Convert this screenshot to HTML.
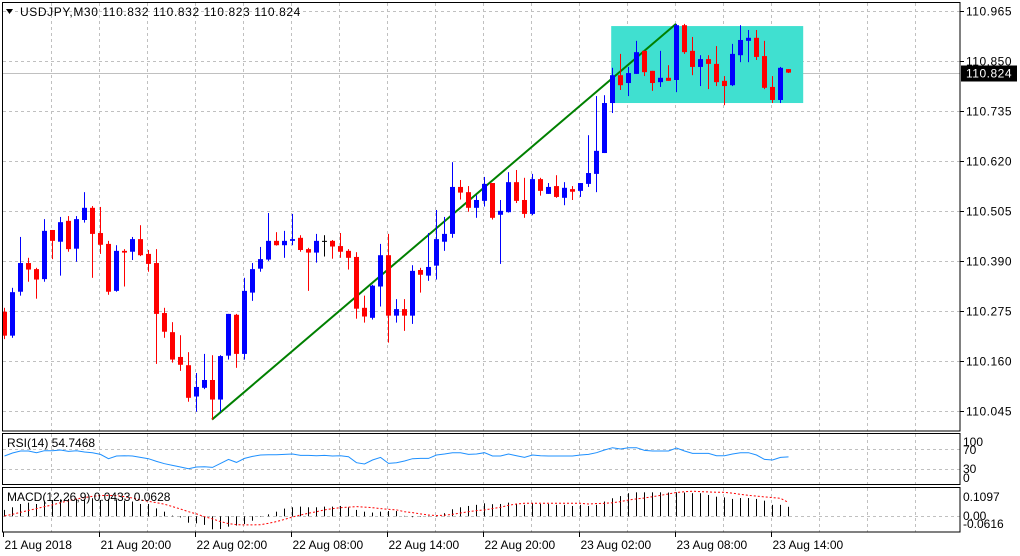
<!DOCTYPE html>
<html><head><meta charset="utf-8"><style>
html,body{margin:0;padding:0;background:#fff;}
svg{display:block;font-family:"Liberation Sans",sans-serif;font-size:12px;}
</style></head><body>
<svg id="chart" width="1020" height="556" viewBox="0 0 1020 556" xmlns="http://www.w3.org/2000/svg">
<rect x="0" y="0" width="1020" height="556" fill="#fff"/>
<g id="grid"></g>
<g id="overlay"></g>
<g id="candles"></g>
<g id="ind"></g>
<g id="frame">
<rect x="2.5" y="2.5" width="957.5" height="428.5" fill="none" stroke="#000"/>
<rect x="2.5" y="433.5" width="957.5" height="51" fill="none" stroke="#000"/>
<rect x="2.5" y="487.5" width="957.5" height="44.5" fill="none" stroke="#000"/>
</g>
<g id="axes"></g>
<polygon points="6,9 13,9 9.5,14" fill="#000"/>
<text x="20" y="16" fill="#000" letter-spacing="0.6">USDJPY,M30  110.832 110.832 110.823 110.824</text>
<text x="7" y="447" fill="#000">RSI(14) 54.7468</text>
<text x="7" y="501" fill="#000">MACD(12,26,9) 0.0433 0.0628</text>
</svg>
<script>
const opens=[110.274,110.219,110.320,110.386,110.372,110.349,110.462,110.435,110.483,110.419,
110.485,110.513,110.455,110.430,110.322,110.414,110.412,110.441,110.407,110.386,
110.271,110.227,110.170,110.151,110.079,110.099,110.117,110.072,110.173,110.267,
110.177,110.318,110.373,110.394,110.437,110.427,110.437,110.444,110.418,110.410,
110.437,110.437,110.425,110.414,110.400,110.283,110.260,110.332,110.404,110.265,
110.280,110.265,110.370,110.357,110.380,110.435,110.453,110.561,110.549,110.513,
110.529,110.570,110.497,110.503,110.572,110.531,110.499,110.579,110.545,110.563,
110.536,110.556,110.552,110.568,110.591,110.639,110.754,110.818,110.800,110.821,
110.874,110.828,110.802,110.812,110.807,110.933,110.874,110.837,110.855,110.844,
110.805,110.795,110.864,110.897,110.904,110.862,110.791,110.761,110.832];
const highs=[110.283,110.329,110.446,110.398,110.375,110.487,110.462,110.492,110.494,110.494,
110.549,110.517,110.515,110.437,110.427,110.418,110.446,110.473,110.416,110.418,
110.283,110.250,110.220,110.181,110.133,110.177,110.174,110.174,110.269,110.269,
110.352,110.386,110.423,110.501,110.457,110.460,110.499,110.450,110.421,110.453,
110.450,110.439,110.455,110.418,110.411,110.311,110.336,110.430,110.453,110.303,
110.303,110.381,110.375,110.455,110.508,110.492,110.618,110.577,110.563,110.542,
110.584,110.570,110.531,110.595,110.600,110.582,110.591,110.582,110.570,110.588,
110.572,110.563,110.570,110.680,110.770,110.772,110.835,110.867,110.837,110.897,
110.874,110.828,110.874,110.841,110.936,110.936,110.906,110.864,110.864,110.885,
110.816,110.890,110.933,110.922,110.922,110.897,110.816,110.837,110.832];
const lows=[110.211,110.214,110.311,110.343,110.304,110.343,110.395,110.357,110.412,110.389,
110.479,110.352,110.407,110.313,110.320,110.332,110.393,110.402,110.366,110.154,
110.214,110.157,110.138,110.067,110.044,110.096,110.026,110.044,110.164,110.145,
110.164,110.299,110.366,110.391,110.426,110.398,110.427,110.412,110.322,110.387,
110.401,110.396,110.398,110.371,110.258,110.249,110.256,110.286,110.203,110.249,
110.230,110.246,110.318,110.345,110.348,110.414,110.444,110.532,110.504,110.490,
110.516,110.486,110.384,110.502,110.524,110.490,110.496,110.541,110.545,110.536,
110.519,110.531,110.538,110.561,110.549,110.639,110.731,110.784,110.770,110.821,
110.816,110.782,110.791,110.805,110.779,110.867,110.818,110.793,110.786,110.793,
110.749,110.793,110.848,110.848,110.853,110.786,110.754,110.754,110.823];
const closes=[110.219,110.319,110.386,110.371,110.348,110.460,110.437,110.480,110.418,110.487,
110.513,110.453,110.428,110.320,110.414,110.410,110.441,110.404,110.384,110.269,
110.228,110.164,110.152,110.076,110.101,110.117,110.072,110.172,110.269,110.177,
110.322,110.372,110.395,110.437,110.427,110.437,110.441,110.416,110.410,110.437,
110.437,110.424,110.412,110.398,110.281,110.263,110.334,110.404,110.265,110.280,
110.265,110.368,110.359,110.377,110.441,110.453,110.561,110.548,110.513,110.531,
110.568,110.490,110.506,110.572,110.529,110.499,110.579,110.552,110.561,110.538,
110.559,110.550,110.570,110.593,110.644,110.754,110.818,110.795,110.823,110.871,
110.825,110.800,110.812,110.805,110.933,110.871,110.837,110.855,110.844,110.802,
110.793,110.867,110.899,110.904,110.860,110.789,110.761,110.835,110.824];
const rsiValues=[56.6,62.6,66.6,66.6,63.3,67.3,67.3,68.6,65.9,67.3,64.6,63.3,59.9,51.3,56.6,57.3,56.6,53.9,51.3,45.9,
41.3,37.9,34.6,31.2,34.6,35.2,33.9,41.9,49.9,43.9,51.9,55.9,58.6,59.2,59.2,59.9,60.6,57.9,57.9,57.3,
57.9,56.6,57.3,55.3,43.2,40.6,48.6,53.9,41.9,43.2,46.6,51.3,51.9,51.9,58.6,60.6,63.2,63.2,59.9,60.6,
63.2,56.6,56.6,60.6,57.3,53.9,58.6,57.3,56.6,56.6,56.6,56.6,58.6,59.9,63.2,68.6,73.3,70.6,73.3,73.3,
67.9,66.6,66.6,66.6,72.6,66.6,61.9,61.9,61.9,57.3,57.3,60.6,63.2,63.2,58.6,49.9,48.6,53.9,54.7];
const macdHist=[.029,.041,.056,.062,.056,.071,.074,.077,.079,.080,.077,.082,.074,.079,.077,.071,.067,.056,.056,.036,
.021,.003,-.005,-.029,-.032,-.039,-.059,-.058,-.047,-.042,-.035,-.020,0,.009,.021,.035,.041,.044,.041,.041,
.044,.044,.047,.041,.029,.021,.017,.021,.024,.024,
.002,-.004,0,.002,.002,.014,.032,.041,.047,.052,.059,.055,.056,.062,.056,.052,.059,.056,.056,.052,
.052,.047,.052,.047,.052,.067,.082,.092,.105,.109,.109,.109,.109,.108,.109,.108,.105,.105,.097,.089,
.086,.079,.083,.083,.079,.071,.052,.052,.0433];
const macdSignal=[.002,.009,.018,.027,.035,.044,.052,.062,.071,.079,.085,.091,.094,.095,.094,.089,.083,.074,.068,.062,
.055,.044,.033,.021,.011,-.002,-.012,-.024,-.033,-.038,-.039,-.039,-.038,-.032,-.024,-.014,-.003,.006,.014,.021,
.029,.035,.039,.042,.044,.042,.039,.035,.032,.029,
.021,.017,.011,.006,.003,.005,.009,.015,.021,.026,.029,.035,.041,.050,.056,.059,.059,.059,.059,.059,
.059,.059,.059,.056,.058,.059,.062,.067,.074,.079,.083,.089,.095,.102,.108,.112,.114,.112,.111,.109,
.109,.105,.100,.095,.092,.088,.085,.082,.0628];
const priceTicks=[110.965,110.850,110.735,110.620,110.505,110.390,110.275,110.160,110.045];
const timeLabels=["21 Aug 2018","21 Aug 20:00","22 Aug 02:00","22 Aug 08:00","22 Aug 14:00","22 Aug 20:00","23 Aug 02:00","23 Aug 08:00","23 Aug 14:00"];
const currentPrice=[110.824];
const trendStart=[26,110.026];
const trendEnd=[84,110.936];
const rangeBox=[75.9,99.9,110.931,110.754];

const NS="http://www.w3.org/2000/svg";
function mk(tag,attrs,parent){const e=document.createElementNS(NS,tag);for(const k in attrs)e.setAttribute(k,attrs[k]);parent.appendChild(e);return e;}
const xOf=i=>4+8*i;
const yOf=p=>411.3-(p-110.045)*434.8;
const rY=v=>484.3-v*0.5;
const mY=v=>516.3-v*220;
const grid=document.getElementById('grid'),ov=document.getElementById('overlay'),cg=document.getElementById('candles'),ind=document.getElementById('ind'),ax=document.getElementById('axes');

for(let x=51.5;x<960;x+=48){
  [[3,431],[434,484],[488,532]].forEach(r=>{
    const l=mk('line',{x1:x,x2:x,y1:r[0],y2:r[1],stroke:'#c0c0c0','stroke-dasharray':'3,3'},grid);
    
    
  });
}
priceTicks.forEach(p=>{
  const y=Math.round(yOf(p))+0.5;
  const l=mk('line',{x1:3,x2:960,y1:y,y2:y,stroke:'#c0c0c0','stroke-dasharray':'3,3'},grid);
  
  
  const t=mk('line',{x1:960,x2:964,y1:y,y2:y,stroke:'#000'},ax);
  
  
  const tx=mk('text',{x:966,y:y+4,fill:'#000','letter-spacing':'0.5'},ax);
  tx.textContent=p.toFixed(3);
  
  
});
[70,30].forEach(v=>{
  const y=Math.round(rY(v))+0.5;
  const l=mk('line',{x1:3,x2:960,y1:y,y2:y,stroke:'#c0c0c0','stroke-dasharray':'3,3'},grid);
  
  
});
{const y=Math.round(mY(0))+0.5;
 const l=mk('line',{x1:3,x2:960,y1:y,y2:y,stroke:'#c0c0c0','stroke-dasharray':'3,3'},grid);
 
 }

{const y=Math.round(yOf(currentPrice[0]))+0.5;
 const l=mk('line',{x1:3,x2:960,y1:y,y2:y,stroke:'#c0c0c0'},ov);
 
 
 const r=mk('rect',{x:961,y:y-8,width:56,height:16,fill:'#000'},ax);
 
 
 const t=mk('text',{x:966,y:y+4,fill:'#fff','letter-spacing':'0.5'},ax);
 t.textContent=currentPrice[0].toFixed(3);
 
 }

{const x1=xOf(rangeBox[0]),x2=xOf(rangeBox[1]),y1=yOf(rangeBox[2]),y2=yOf(rangeBox[3]);
 const r=mk('rect',{x:x1,y:y1,width:x2-x1,height:y2-y1,fill:'#40e0d0'},ov);
 
 }
{const l=mk('line',{x1:xOf(trendStart[0]),y1:yOf(trendStart[1]),x2:xOf(trendEnd[0]),y2:yOf(trendEnd[1]),stroke:'#008000','stroke-width':2},ov);
 
 }

for(let i=0;i<opens.length;i++){
  const o=opens[i],h=highs[i],lo=lows[i],c=closes[i];
  const col=c>o?'#0000ff':(c<o?'#ff0000':'#000000');
  const x=xOf(i);
  const g=mk('g',{},cg);
  
  
  mk('rect',{x:x,y:yOf(h),width:1,height:Math.max(1,yOf(lo)-yOf(h)),fill:col},g);
  const top=yOf(Math.max(o,c)),bot=yOf(Math.min(o,c));
  mk('rect',{x:x-2,y:top,width:5,height:Math.max(1,bot-top),fill:col},g);
}

{let d='';rsiValues.forEach((v,i)=>{d+=(i?'L':'M')+(xOf(i)+0.5)+' '+rY(v).toFixed(1);});
 const p=mk('path',{d:d,fill:'none',stroke:'#1e90ff','stroke-width':1},ind);
 
 }
macdHist.forEach((v,i)=>{
  const y0=mY(0),y1=mY(v);
  const r=mk('rect',{x:xOf(i),y:Math.min(y0,y1),width:1,height:Math.max(0.5,Math.abs(y1-y0)),fill:'#000'},ind);
  
  
});
{let d='';macdSignal.forEach((v,i)=>{d+=(i?'L':'M')+(xOf(i)+0.5)+' '+mY(v).toFixed(1);});
 const p=mk('path',{d:d,fill:'none',stroke:'#ff0000','stroke-width':1,'stroke-dasharray':'2,2'},ind);
 
 }

[["100",446],["70",454],["30",473],["0",482]].forEach(a=>{
  const t=mk('text',{x:963,y:a[1],fill:'#000'},ax);t.textContent=a[0];
  
  
});
[["0.1097",501],["0.00",520],["-0.0616",528]].forEach(a=>{
  const t=mk('text',{x:963,y:a[1],fill:'#000'},ax);t.textContent=a[0];
  
  
});
timeLabels.forEach((s,k)=>{
  const x=3.5+96*k;
  const l=mk('line',{x1:x,x2:x,y1:532,y2:537,stroke:'#000'},ax);
  
  
  const t=mk('text',{x:x+1,y:549,fill:'#000'},ax);t.textContent=s;
  
  
});
</script>
</body></html>
